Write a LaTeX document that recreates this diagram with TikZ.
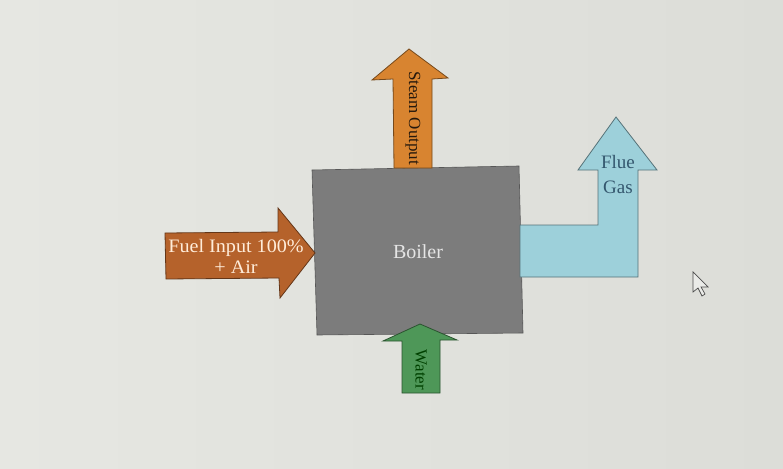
\documentclass[tikz,border=0pt]{standalone}
\usepackage{fontspec}
\setmainfont{Liberation Serif}
\definecolor{screen}{HTML}{DCDDD8}
\definecolor{screenlight}{HTML}{E6E7E2}
\definecolor{boilergray}{HTML}{7C7C7C}
\definecolor{fuelorange}{HTML}{B5622B}
\definecolor{steamorange}{HTML}{D88430}
\definecolor{fluegas}{HTML}{9DD0DA}
\definecolor{fluetext}{HTML}{34576E}
\definecolor{waterg}{HTML}{4E9758}
\tikzset{
  arrowshape/.style={draw=#1!55!black, line width=0.8pt, line join=miter},
  lbl/.style={font=\fontsize{19}{21}\selectfont, align=center, inner sep=0pt}
}
\begin{document}
\begin{tikzpicture}[x=1pt,y=-1pt]
\useasboundingbox (0,0) rectangle (783,468);
\shade[left color=screenlight, right color=screen, shading angle=90] (0,0) rectangle (783,468);
% boiler
\fill[boilergray, draw=boilergray!70!black, line width=0.6pt] (312,170) -- (519,166) -- (523,333) -- (317,335) -- cycle;
\node[lbl, text=white!80!gray, font=\fontsize{20}{22}\selectfont] (boiler) at (418,252) {Boiler};
% fuel arrow
\fill[fuelorange, arrowshape=fuelorange] (165,233) -- (278,232) -- (278,208) -- (315,253) -- (280,298) -- (279,278) -- (166,279) -- cycle;
\node[lbl, text=white!85!orange, xscale=1.06] (fuel) at (236,256) {Fuel Input 100\%\\+ Air};
% steam output arrow
\fill[steamorange, arrowshape=steamorange] (394,168) -- (393,79) -- (372,80) -- (409,49) -- (448,78) -- (432,79) -- (432,168) -- cycle;
\node[lbl, rotate=-90, text=black!80!brown, font=\fontsize{17}{19}\selectfont] (steam) at (413,118) {Steam Output};
% flue gas arrow
\fill[fluegas, arrowshape=fluegas] (520,225) -- (598,225) -- (598,170) -- (578,170) -- (616,117) -- (657,170) -- (638,170) -- (638,277) -- (520,277) -- cycle;
\node[lbl, text=fluetext, font=\fontsize{19}{25}\selectfont] (flue) at (618,175) {Flue\\Gas};
% water arrow
\fill[waterg, arrowshape=waterg] (402,393) -- (402,341) -- (383,341) -- (420,324) -- (457,340) -- (440,340) -- (440,393) -- cycle;
\node[lbl, rotate=-90, text=black!75!green, font=\fontsize{17}{19}\selectfont] (water) at (421,370) {Water};
% mouse cursor
\draw[black!70, line width=0.7pt, fill=screen!60!white] (693,272) -- (693,292) -- (698,288) -- (702,296) -- (705,294) -- (701,287) -- (708,287) -- cycle;
\end{tikzpicture}
\end{document}
